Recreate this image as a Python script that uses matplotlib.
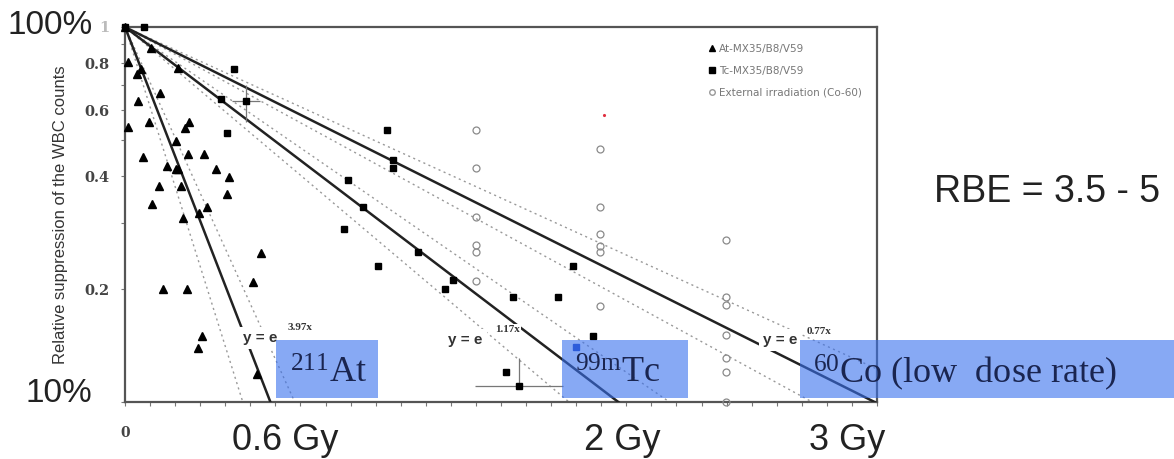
import numpy as np
import matplotlib.pyplot as plt
from matplotlib.patches import Rectangle
from matplotlib.lines import Line2D

plt.rcParams['mathtext.fontset'] = 'custom'
plt.rcParams['mathtext.rm'] = 'Liberation Serif'
plt.rcParams['mathtext.it'] = 'Liberation Serif:italic'
plt.rcParams['mathtext.bf'] = 'Liberation Serif:bold'

# 211At-MX35 (triangles)
at_dose = [0.0, 0.012, 0.064, 0.048, 0.140, 0.052, 0.012, 0.096, 0.255, 0.239, 0.203,
           0.072, 0.251, 0.315, 0.168, 0.203, 0.211, 0.363, 0.415, 0.136, 0.223,
           0.407, 0.108, 0.327, 0.231, 0.295, 0.542, 0.511, 0.152, 0.247, 0.307,
           0.291, 0.527, 0.104, 0.211]
at_frac = [1.0, 0.806, 0.773, 0.749, 0.667, 0.635, 0.541, 0.558, 0.558, 0.538, 0.497,
           0.450, 0.459, 0.459, 0.426, 0.418, 0.418, 0.418, 0.398, 0.377, 0.377,
           0.359, 0.337, 0.331, 0.310, 0.319, 0.250, 0.209, 0.200, 0.200, 0.150,
           0.139, 0.119, 0.879, 0.777]

# 99mTc-MX35 (squares)
tc_dose = [0.0, 0.076, 0.435, 0.383, 0.483, 0.407, 1.045, 1.069, 1.069, 0.890, 0.949,
           0.874, 1.169, 1.009, 1.308, 1.276, 1.548, 1.727, 1.787, 1.867, 1.520, 1.572]
tc_frac = [1.0, 1.0, 0.773, 0.643, 0.635, 0.521, 0.531, 0.442, 0.421, 0.391, 0.331,
           0.289, 0.251, 0.231, 0.212, 0.200, 0.191, 0.191, 0.231, 0.150, 0.120, 0.110]

# error bars on two Tc points
err_dose = [0.483, 1.572]
err_frac = [0.635, 0.110]
err_x = [0.056, 0.176]
err_y_low = [0.077, 0.0]
err_y_high = [0.065, 0.021]

# external Co-60 irradiation (open circles)
co_dose = [1.40, 1.40, 1.40, 1.40, 1.40, 1.40,
           1.895, 1.895, 1.895, 1.895, 1.895, 1.895,
           2.397, 2.397, 2.397, 2.397, 2.397, 2.397, 2.397]
co_frac = [0.531, 0.421, 0.311, 0.262, 0.251, 0.210,
           0.473, 0.331, 0.281, 0.261, 0.251, 0.180,
           0.270, 0.191, 0.181, 0.151, 0.131, 0.120, 0.100]

fit_rates = [3.97, 1.17, 0.77]
fit_labels = ['3.97x', '1.17x', '0.77x']
ci_rates = [4.9, 3.4, 1.30, 1.06, 0.84, 0.70]

legend_labels = ['At-MX35/B8/V59', 'Tc-MX35/B8/V59', 'External irradiation (Co-60)']
ytick_vals = [0.1, 0.2, 0.3, 0.4, 0.5, 0.6, 0.7, 0.8, 0.9, 1.0]
ytick_text = ['', '0.2', '', '0.4', '', '0.6', '', '0.8', '', '1']

W, H = 1174, 459


def fx(px):
    return px / W


def fy(py):
    return 1 - py / H


fig = plt.figure(figsize=(W / 100, H / 100), dpi=100)
ax = fig.add_axes([fx(125), fy(402), fx(877) - fx(125), fy(27) - fy(402)])
ax.set_yscale('log')
ax.set_xlim(0, 3)
ax.set_ylim(0.1, 1)

xline = np.array([0.0, 3.0])
for k in ci_rates:
    ax.plot(xline, np.exp(-k * xline), color='#999999', lw=1.0, ls=(0, (1.5, 2.5)), zorder=2)
for k in fit_rates:
    ax.plot(xline, np.exp(-k * xline), color='#222222', lw=1.8, zorder=3)

ax.plot(co_dose, co_frac, 'o', ms=5, mfc='none', mec='#8a8a8a', mew=0.9, zorder=4, clip_on=False)
ax.plot(at_dose, at_frac, '^', ms=5.5, color='black', zorder=5, clip_on=False)
ax.plot(tc_dose, tc_frac, 's', ms=5, color='black', zorder=5, clip_on=False)
ax.errorbar(err_dose, err_frac, xerr=err_x, yerr=[err_y_low, err_y_high], fmt='none',
            ecolor='#777777', elinewidth=0.9, capsize=0, zorder=4)
ax.plot([1.799], [0.140], 's', ms=4, color='#1f3fbf', zorder=6)
ax.plot([1.91], [0.583], '.', ms=2.5, color='#e03040', zorder=6)

for s in ax.spines.values():
    s.set_color('#555555')
    s.set_linewidth(1.6)

ax.set_yticks(ytick_vals)
ax.set_yticklabels(ytick_text)
ax.yaxis.set_minor_locator(plt.NullLocator())
ax.tick_params(axis='y', direction='out', length=3, width=0.8, color='#777777', pad=8,
               labelsize=10.5, labelcolor='#444444')
for lab in ax.get_yticklabels():
    lab.set_fontfamily('DejaVu Serif')
    lab.set_fontweight('bold')
ax.get_yticklabels()[-1].set_color('#bbbbbb')

xt = np.arange(0, 31) / 10
ax.set_xticks(xt)
ax.set_xticklabels(['0'] + [''] * 30)
ax.tick_params(axis='x', direction='out', length=3, width=0.8, color='#777777', pad=14,
               labelsize=10, labelcolor='#444444')
for lab in ax.get_xticklabels():
    lab.set_fontfamily('DejaVu Serif')
    lab.set_fontweight('bold')

ax.set_ylabel('Relative suppression of the WBC counts', fontsize=12, color='#333333',
              family='Liberation Sans', labelpad=12)

handles = [Line2D([], [], marker='^', ls='none', color='black', ms=4),
           Line2D([], [], marker='s', ls='none', color='black', ms=4),
           Line2D([], [], marker='o', ls='none', mfc='none', mec='#999999', ms=4)]
ax.legend(handles, legend_labels, loc='upper left', bbox_to_anchor=(0.762, 0.98),
          frameon=False, fontsize=7.5, labelcolor='#777777', handlelength=0.8,
          handletextpad=0.3, labelspacing=1.15)

# regression equations
eq_pos = [(243, 338, 288, 328), (448, 340, 495, 330), (763, 340, 807, 331)]
for (x1, y1, x2, y2), lab in zip(eq_pos, fit_labels):
    fig.text(fx(x1), fy(y1), 'y = e', fontsize=11, fontweight='bold', family='Liberation Sans',
             color='#333333', va='center', ha='left', zorder=10,
             bbox=dict(facecolor='white', edgecolor='none', pad=3))
    fig.text(fx(x2), fy(y2), lab, fontsize=8, fontweight='bold', family='Liberation Serif',
             color='#333333', va='center', ha='left', zorder=10,
             bbox=dict(facecolor='white', edgecolor='none', pad=0.8))

# blue labels
boxes = [(276, 378), (562, 688), (800, 1174)]
for x0, x1 in boxes:
    fig.add_artist(Rectangle((fx(x0), fy(398)), fx(x1) - fx(x0), fy(340) - fy(398),
                             transform=fig.transFigure, facecolor=(0.22, 0.44, 0.93),
                             alpha=0.6, edgecolor='none', zorder=11))
iso_text = [r'$^{211}$At', r'$^{99\mathrm{m}}$Tc', r'$^{60}$Co (low  dose rate)']
iso_x = [290, 575, 813]
for x0, t in zip(iso_x, iso_text):
    fig.text(fx(x0), fy(383), t, fontsize=26, family='Liberation Serif', color='#1a2550',
             va='baseline', ha='left', zorder=12)

# big annotations
big = dict(family='Liberation Sans', color='#222222', zorder=12)
fig.text(fx(93), fy(25), '100%', fontsize=24, ha='right', va='center', **big)
fig.text(fx(92), fy(393), '10%', fontsize=24, ha='right', va='center', **big)
fig.text(fx(285), fy(450), '0.6 Gy', fontsize=26, ha='center', va='baseline', **big)
fig.text(fx(622), fy(450), '2 Gy', fontsize=26, ha='center', va='baseline', **big)
fig.text(fx(847), fy(450), '3 Gy', fontsize=26, ha='center', va='baseline', **big)
fig.text(fx(1047), fy(192), 'RBE = 3.5 - 5', fontsize=27, ha='center', va='center', **big)

fig.savefig('out.png', dpi=100)
plt.close()
